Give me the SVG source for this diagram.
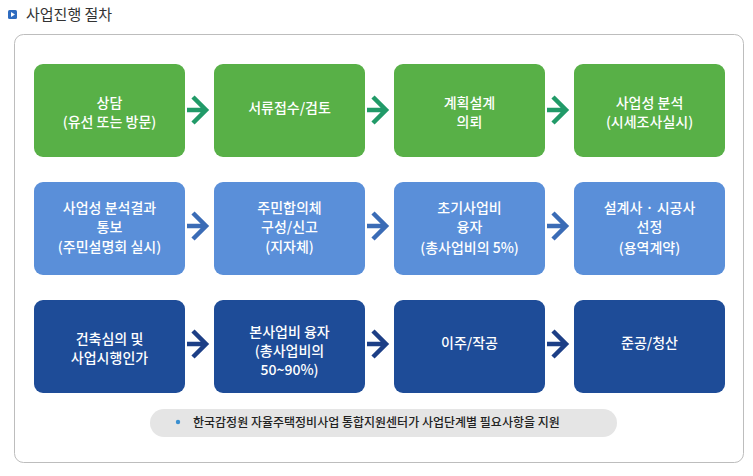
<svg xmlns="http://www.w3.org/2000/svg" width="753" height="476" viewBox="0 0 753 476">
<style>
.t{font-family:"Noto Sans CJK KR","Noto Sans",sans-serif;font-size:14px;fill:#fff;text-anchor:middle;font-weight:500}
.g{fill:#58b047}
.b{fill:#5a8fd9}
.d{fill:#1e4c98}
.ag{stroke:#219a68}
.ab{stroke:#3b6cb6}
.ad{stroke:#1d3f86}
.arr{fill:none;stroke-width:4.5;stroke-linecap:butt;stroke-linejoin:miter}
</style>
<rect x="0" y="0" width="753" height="476" fill="#fff"/>
<g id="title">
<rect x="8" y="10" width="9" height="9" rx="1.5" fill="#2f6cc0"/>
<path d="M11 12 L15 14.5 L11 17 Z" fill="#fff"/>
<text x="26" y="20" style="font-family:'Noto Sans CJK KR','Noto Sans',sans-serif;font-size:15px;fill:#333">사업진행 절차</text>
</g>
<rect id="frame" x="14.5" y="34.5" width="729" height="428" rx="9" fill="none" stroke="#bdbdbd"/>
<g id="n1"><rect class="g" x="34" y="64" width="151" height="93" rx="9"/><text class="t" x="109.5" y="108">상담</text><text class="t" x="109.5" y="127">(유선 또는 방문)</text></g>
<g id="n2"><rect class="g" x="214" y="64" width="151" height="93" rx="9"/><text class="t" x="289.5" y="113">서류접수/검토</text></g>
<g id="n3"><rect class="g" x="394" y="64" width="151" height="93" rx="9"/><text class="t" x="469.5" y="108">계획설계</text><text class="t" x="469.5" y="127">의뢰</text></g>
<g id="n4"><rect class="g" x="574" y="64" width="151" height="93" rx="9"/><text class="t" x="649.5" y="108">사업성 분석</text><text class="t" x="649.5" y="127">(시세조사실시)</text></g>
<g id="n5"><rect class="b" x="34" y="182" width="151" height="93" rx="9"/><text class="t" x="109.5" y="213">사업성 분석결과</text><text class="t" x="109.5" y="232">통보</text><text class="t" x="109.5" y="252">(주민설명회 실시)</text></g>
<g id="n6"><rect class="b" x="214" y="182" width="151" height="93" rx="9"/><text class="t" x="289.5" y="213">주민합의체</text><text class="t" x="289.5" y="232">구성/신고</text><text class="t" x="289.5" y="252">(지자체)</text></g>
<g id="n7"><rect class="b" x="394" y="182" width="151" height="93" rx="9"/><text class="t" x="469.5" y="213">초기사업비</text><text class="t" x="469.5" y="232">융자</text><text class="t" x="469.5" y="253">(총사업비의 5%)</text></g>
<g id="n8"><rect class="b" x="574" y="182" width="151" height="93" rx="9"/><text class="t" x="649.5" y="213">설계사 · 시공사</text><text class="t" x="649.5" y="232">선정</text><text class="t" x="649.5" y="253">(용역계약)</text></g>
<g id="n9"><rect class="d" x="34" y="300" width="151" height="93" rx="9"/><text class="t" x="109.5" y="344">건축심의 및</text><text class="t" x="109.5" y="363">사업시행인가</text></g>
<g id="n10"><rect class="d" x="214" y="300" width="151" height="93" rx="9"/><text class="t" x="289.5" y="337">본사업비 융자</text><text class="t" x="289.5" y="356">(총사업비의</text><text class="t" x="289.5" y="375">50~90%)</text></g>
<g id="n11"><rect class="d" x="394" y="300" width="151" height="93" rx="9"/><text class="t" x="469.5" y="348">이주/작공</text></g>
<g id="n12"><rect class="d" x="574" y="300" width="151" height="93" rx="9"/><text class="t" x="649.5" y="348">준공/청산</text></g>
<g id="connectors" class="arr">
<path class="ag arr" d="M187 110 H204 M193 97 L206 110 L193 123"/>
<path class="ag arr" d="M367 110 H384 M373 97 L386 110 L373 123"/>
<path class="ag arr" d="M547 110 H564 M553 97 L566 110 L553 123"/>
<path class="ab arr" d="M187 226 H204 M193 213 L206 226 L193 239"/>
<path class="ab arr" d="M367 226 H384 M373 213 L386 226 L373 239"/>
<path class="ab arr" d="M547 226 H564 M553 213 L566 226 L553 239"/>
<path class="ad arr" d="M187 344 H204 M193 331 L206 344 L193 357"/>
<path class="ad arr" d="M367 344 H384 M373 331 L386 344 L373 357"/>
<path class="ad arr" d="M547 344 H564 M553 331 L566 344 L553 357"/>
</g>
<g id="note">
<rect x="150" y="409" width="467" height="28" rx="14" fill="#e5e5e5"/>
<circle cx="178" cy="422" r="2.2" fill="#3a8fd0"/>
<text x="193" y="427" style="font-family:'Noto Sans CJK KR','Noto Sans',sans-serif;font-size:12px;fill:#222;font-weight:500">한국감정원 자율주택정비사업 통합지원센터가 사업단계별 필요사항을 지원</text>
</g>
</svg>
